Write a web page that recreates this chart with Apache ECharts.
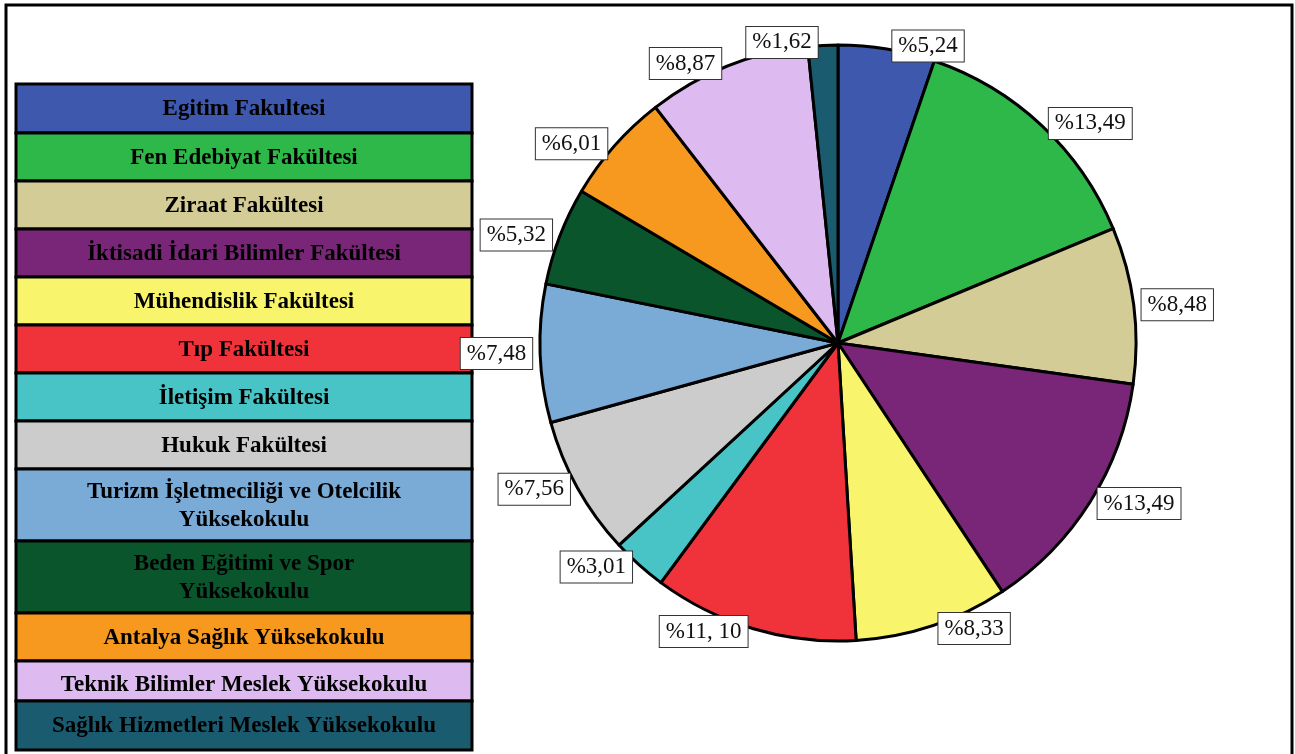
<!DOCTYPE html>
<html>
<head>
<meta charset="utf-8">
<script src="https://cdn.jsdelivr.net/npm/echarts@6/dist/echarts.min.js"></script>
<style>
  html, body { margin: 0; padding: 0; background: #fff; }
  #main { width: 1295px; height: 754px; }
</style>
</head>
<body>
<div id="main"></div>
<script>
// birimler (saat yönünde, tepeden başlayarak)
var names = [
  'Egitim Fakultesi', 'Fen Edebiyat Fakültesi', 'Ziraat Fakültesi',
  'İktisadi İdari Bilimler Fakültesi', 'Mühendislik Fakültesi', 'Tıp Fakültesi',
  'İletişim Fakültesi', 'Hukuk Fakültesi', 'Turizm İşletmeciliği ve Otelcilik Yüksekokulu',
  'Beden Eğitimi ve Spor Yüksekokulu', 'Antalya Sağlık Yüksekokulu',
  'Teknik Bilimler Meslek Yüksekokulu', 'Sağlık Hizmetleri Meslek Yüksekokulu'
];
var values = [5.24, 13.49, 8.48, 13.49, 8.33, 11.10, 3.01, 7.56, 7.48, 5.32, 6.01, 8.87, 1.62];
var labels = ['%5,24', '%13,49', '%8,48', '%13,49', '%8,33', '%11, 10', '%3,01',
  '%7,56', '%7,48', '%5,32', '%6,01', '%8,87', '%1,62'];
var colors = ['#3d58ad', '#2eb84a', '#d3cc97', '#7a2678', '#f8f56c', '#f0333a', '#48c3c6',
  '#cccccc', '#7aaad6', '#0b552d', '#f7981f', '#ddbaf0', '#1b5b6f'];

// legend kutuları (yerleşim)
var legendText = names.slice();
legendText[8] = 'Turizm İşletmeciliği ve Otelcilik\nYüksekokulu';
legendText[9] = 'Beden Eğitimi ve Spor\nYüksekokulu';
var rowH = [49, 48, 48, 48, 48, 48, 48, 48, 72, 72, 48, 40, 49];

var graphics = [];
// dış çerçeve
graphics.push({
  type: 'rect', shape: { x: 6, y: 5, width: 1286, height: 800 },
  style: { fill: 'none', stroke: '#000', lineWidth: 3 }, z: 100
});
var y = 84;
for (var i = 0; i < names.length; i++) {
  graphics.push({
    type: 'rect', shape: { x: 16, y: y, width: 456, height: rowH[i] },
    style: { fill: colors[i], stroke: '#000', lineWidth: 3 }
  });
  graphics.push({
    type: 'text',
    style: {
      text: legendText[i], x: 244, y: y + rowH[i] / 2 + (i === 11 ? 4 : 1),
      align: 'center', verticalAlign: 'middle',
      font: 'bold 23px "Liberation Serif"', fill: '#000', lineHeight: 28
    }
  });
  y += rowH[i];
}

var chart = echarts.init(document.getElementById('main'));
chart.setOption({
  animation: false,
  backgroundColor: '#fff',
  graphic: graphics,
  series: [{
    type: 'pie',
    center: [838, 343],
    radius: 298,
    startAngle: 90,
    clockwise: true,
    avoidLabelOverlap: false,
    itemStyle: { borderColor: '#000', borderWidth: 3 },
    label: {
      show: true,
      position: 'outside',
      fontFamily: 'Liberation Serif',
      fontSize: 23,
      color: '#111',
      backgroundColor: '#fff',
      borderColor: '#333',
      borderWidth: 1,
      padding: [5, 6, 3, 6],
      formatter: function (p) { return labels[p.dataIndex]; }
    },
    labelLine: { show: false, length: 3, length2: 0 },
    emphasis: { disabled: true },
    data: names.map(function (n, i) {
      return { name: n, value: values[i], itemStyle: { color: colors[i] } };
    })
  }]
});
</script>
</body>
</html>
